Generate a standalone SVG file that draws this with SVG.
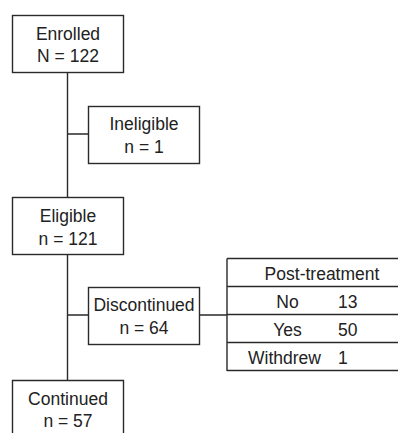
<svg xmlns="http://www.w3.org/2000/svg" width="398" height="433" viewBox="0 0 398 433">
<style>
.box{fill:#fff;stroke:#2a2a2a;stroke-width:1.4}
.ln{fill:none;stroke:#2a2a2a;stroke-width:1.4}
text{font-family:"Liberation Sans",Arial,sans-serif;font-size:17.5px;fill:#222}
.c{text-anchor:middle}
</style>
<rect width="398" height="433" fill="#fff"/>
<g id="connectors">
<path class="ln" d="M67.5 72V197M67.5 134H88M67.5 254V380M67.5 315H88M199.5 315H227"/>
</g>
<g id="enrolled">
<rect class="box" x="12.5" y="15.5" width="111" height="57"/>
<text class="c" x="68" y="40">Enrolled</text>
<text class="c" x="68" y="62">N = 122</text>
</g>
<g id="ineligible">
<rect class="box" x="88.5" y="106.5" width="111" height="57"/>
<text class="c" x="144" y="130">Ineligible</text>
<text class="c" x="144" y="153">n = 1</text>
</g>
<g id="eligible">
<rect class="box" x="12.5" y="197.5" width="111" height="57"/>
<text class="c" x="68" y="222">Eligible</text>
<text class="c" x="68" y="245">n = 121</text>
</g>
<g id="discontinued">
<rect class="box" x="88.5" y="287.5" width="111" height="57"/>
<text class="c" x="144" y="311">Discontinued</text>
<text class="c" x="144" y="334">n = 64</text>
</g>
<g id="continued">
<path class="box" d="M12.5 433V380.5H123.5V433"/>
<text class="c" x="68" y="405">Continued</text>
<text class="c" x="68" y="427">n = 57</text>
</g>
<g id="post-treatment">
<path class="ln" d="M227 258.5V371M227 258.5H398M227 286.5H398M227 314.5H398M227 342.5H398M227 370.5H398"/>
<text class="c" x="322" y="280">Post-treatment</text>
<text class="c" x="287.5" y="308">No</text>
<text x="338" y="308">13</text>
<text class="c" x="287.5" y="336">Yes</text>
<text x="338" y="336">50</text>
<text class="c" x="284.5" y="364">Withdrew</text>
<text x="338" y="364">1</text>
</g>
</svg>
